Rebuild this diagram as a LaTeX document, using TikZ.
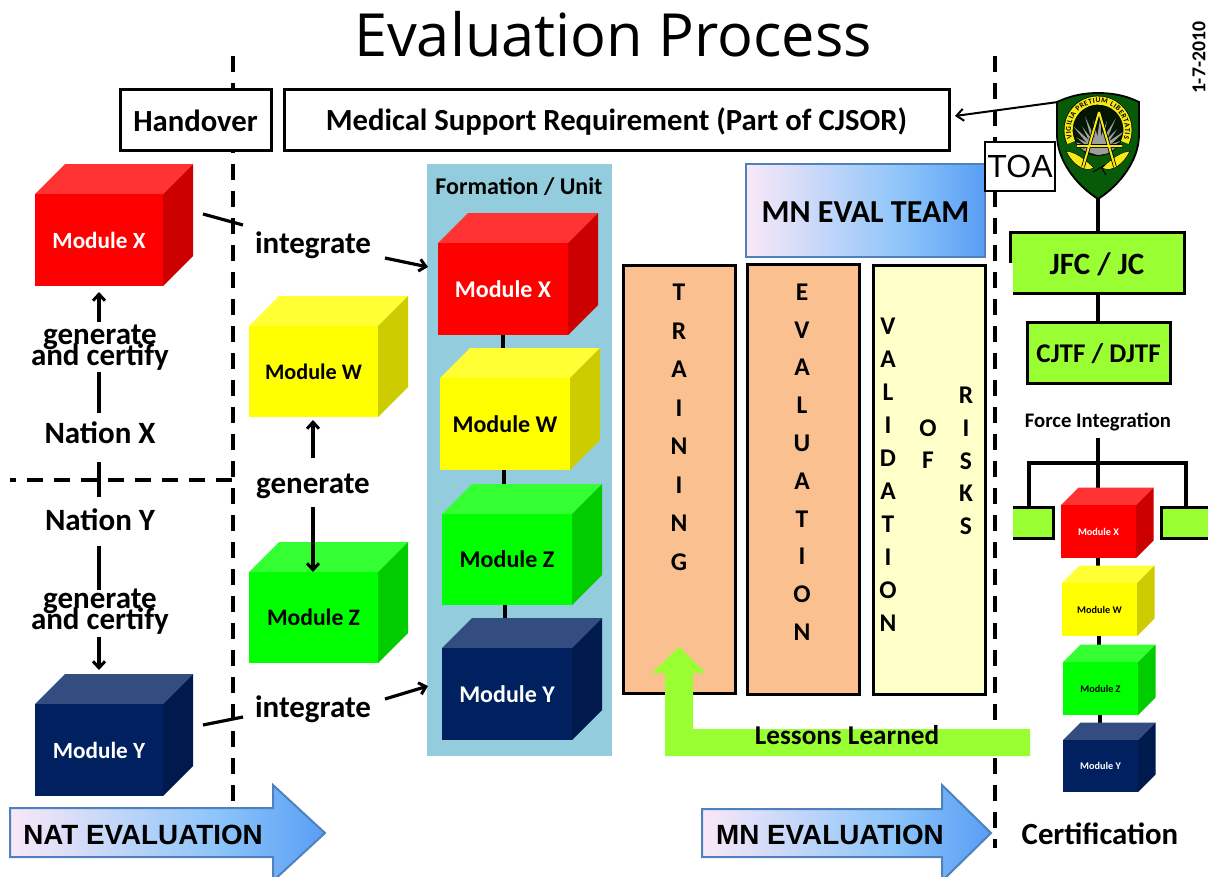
\documentclass[tikz,border=0pt]{standalone}
\usepackage{fontspec}
\setmainfont{Carlito}
\newfontfamily\titlefont{Open Sans}
\newfontfamily\arialfont{Liberation Sans}
\usetikzlibrary{arrows.meta,decorations.text}
\pgfdeclarehorizontalshading{evalgrad}{100bp}{rgb(0bp)=(.98,.91,.97);rgb(25bp)=(.98,.91,.97);rgb(58bp)=(.55,.77,.98);rgb(75bp)=(.35,.62,.96);rgb(100bp)=(.35,.62,.96)}
\definecolor{limeg}{HTML}{99FF33}
\definecolor{peach}{HTML}{FAC090}
\definecolor{paleY}{HTML}{FFFFC9}
\definecolor{formblue}{HTML}{93CDDD}
\definecolor{shieldg}{HTML}{075A07}
\definecolor{gborder}{HTML}{4F81BD}
\definecolor{cubeRf}{HTML}{FF0000}\definecolor{cubeRt}{HTML}{FF3333}\definecolor{cubeRs}{HTML}{CC0000}
\definecolor{cubeYf}{HTML}{FFFF00}\definecolor{cubeYt}{HTML}{FFFF33}\definecolor{cubeYs}{HTML}{CCCC00}
\definecolor{cubeGf}{HTML}{00FF00}\definecolor{cubeGt}{HTML}{33FF33}\definecolor{cubeGs}{HTML}{00CC00}
\definecolor{navy}{HTML}{002060}\definecolor{navytop}{HTML}{334D80}\definecolor{navyside}{HTML}{001A4D}
\definecolor{crestY}{HTML}{F5EA14}
\newcommand{\lowertxt}[2]{\raisebox{-#1}[\height][\depth]{#2}}
\tikzset{
  blackbox/.style={draw=black,line width=3pt,outer sep=0pt},
  link/.style={draw=black,line width=3.2pt},
  flowarrow/.style={draw=black,line width=3.2pt,-{Straight Barb[length=6.5pt,width=12pt,line width=3pt]}},
  gradarrow/.style={shading=evalgrad,draw=gborder,line width=2pt},
  dashline/.style={draw=black,line width=4pt,dash pattern=on 16pt off 11pt},
  lbl/.style={font=\fontsize{31}{32}\selectfont\bfseries,text=black,inner sep=0pt},
  col/.style={inner sep=0pt,align=center,anchor=north},
}
% name, front x0, y0, w, h, depth, front, top, side, text colour, font size, label
\newcommand{\modcube}[9]{%
  \def\cname{#1}\def\cx{#2}\def\cy{#3}\def\cw{#4}\def\ch{#5}\def\cd{#6}%
  \modcubeb{#7}{#8}{#9}}
\newcommand{\modcubeb}[6]{%
  \fill[#2] (\cx,\cy) -- ++(\cd,-\cd) -- ++(\cw,0) -- ++(-\cd,\cd) -- cycle;
  \fill[#3] (\cx+\cw,\cy) -- ++(\cd,-\cd) -- ++(0,\ch) -- ++(-\cd,\cd) -- cycle;
  \node[fill=#1,draw=none,inner sep=0pt,outer sep=0pt,minimum width=\cw pt,minimum height=\ch pt,anchor=north west,
        text=#4,font=\fontsize{#5}{#5}\selectfont\bfseries] (\cname) at (\cx,\cy) {#6};}
\newcommand{\redcube}[6]{\modcube{#1}{#2}{#3}{#4}{#5}{#6}{cubeRf}{cubeRt}{cubeRs}{white}}
\newcommand{\yelcube}[6]{\modcube{#1}{#2}{#3}{#4}{#5}{#6}{cubeYf}{cubeYt}{cubeYs}{black}}
\newcommand{\grncube}[6]{\modcube{#1}{#2}{#3}{#4}{#5}{#6}{cubeGf}{cubeGt}{cubeGs}{black}}
\newcommand{\navcube}[6]{\modcube{#1}{#2}{#3}{#4}{#5}{#6}{navy}{navytop}{navyside}{white}}
\begin{document}
\begin{tikzpicture}[x=1pt,y=-1pt]
\useasboundingbox (0,0) rectangle (1208,876);
\clip (0,0) rectangle (1208,876);
\fill[white] (0,0) rectangle (1208,876);

% dashed boundaries
\coordinate (dl1) at (233,56); \coordinate (dl2) at (233,808);
\coordinate (dr1) at (995,56); \coordinate (dr2) at (995,848);
\coordinate (dh1) at (10,480); \coordinate (dh2) at (232,480);
\draw[dashline] (dl1) -- (dl2);
\draw[dashline] (dr1) -- (dr2);
\draw[dashline,line width=3.6pt] (dh2) -- (dh1);

% title and date
\node[font=\titlefont\fontsize{59.5}{60}\selectfont,inner sep=0pt] (title) at (613,34) {Evaluation Process};
\node[rotate=90,font=\fontsize{19.7}{20}\selectfont\bfseries,inner sep=0pt] (date) at (1199,58) {1-7-2010};

% top boxes
\node[blackbox,fill=white,minimum width=151pt,minimum height=61pt,inner sep=0pt,anchor=north west,font=\fontsize{30.7}{31}\selectfont\bfseries] (hand) at (120,89) {\lowertxt{1pt}{Handover}};
\node[blackbox,fill=white,minimum width=665pt,minimum height=61pt,inner sep=0pt,anchor=north west,font=\fontsize{30.7}{31}\selectfont\bfseries] (msr) at (284,89) {\lowertxt{2pt}{Medical Support Requirement (Part of CJSOR)}};

% formation
\node[fill=formblue,minimum width=185pt,minimum height=592pt,inner sep=0pt,outer sep=0pt,anchor=north west] (form) at (427,164) {};
\node[font=\fontsize{24}{25}\selectfont\bfseries,inner sep=0pt] (formlbl) at (519,187) {Formation / Unit};

% formation links
\coordinate (f1a) at (503,330); \coordinate (f1b) at (503,350);
\coordinate (f2a) at (504,465); \coordinate (f2b) at (504,486);
\coordinate (f3a) at (505,600); \coordinate (f3b) at (505,620);
\draw[link] (f1a) -- (f1b); \draw[link] (f2a) -- (f2b); \draw[link] (f3a) -- (f3b);

\redcube{fX}{438}{243}{130}{92}{30}{24}{Module X}
\yelcube{fW}{440}{378}{130}{92}{30}{24}{Module W}
\grncube{fZ}{442}{514}{130}{91}{30}{24}{Module Z}
\navcube{fY}{442}{648}{130}{92}{30}{24}{Module Y}

% left cubes
\redcube{lX}{35}{194}{128}{92}{30}{23.2}{Module X}
\navcube{lY}{35}{704}{128}{92}{30}{23.2}{Module Y}
\yelcube{mW}{249}{326}{129}{91}{30}{22.2}{Module W}
\grncube{mZ}{249}{572}{129}{91}{30}{23.6}{Module Z}

% left labels
\node[lbl] (g1) at (100,337.5) {generate};
\node[lbl] (c1) at (100,357) {and certify};
\node[lbl] (nx) at (100,433) {Nation X};
\node[lbl] (ny) at (100,520) {Nation Y};
\node[lbl] (g2) at (100,601.5) {generate};
\node[lbl] (c2) at (100,621) {and certify};
\node[lbl] (i1) at (313,245.5) {integrate};
\node[lbl] (i2) at (313,709) {integrate};
\node[lbl] (gm) at (313,486.5) {generate};

% left connectors
\coordinate (a1a) at (99,322); \coordinate (a1b) at (99,292);
\draw[flowarrow] (a1a) -- (a1b);
\coordinate (a2a) at (99,372); \coordinate (a2b) at (99,413);
\draw[link] (a2a) -- (a2b);
\coordinate (a3a) at (99,462); \coordinate (a3b) at (99,497);
\draw[link] (a3a) -- (a3b);
\coordinate (a4a) at (99,546); \coordinate (a4b) at (99,590);
\draw[link] (a4a) -- (a4b);
\coordinate (a5a) at (99,637); \coordinate (a5b) at (99,670);
\draw[flowarrow] (a5a) -- (a5b);
\coordinate (b1a) at (203,214); \coordinate (b1b) at (243,225);
\draw[link] (b1a) -- (b1b);
\coordinate (b2a) at (385,258); \coordinate (b2b) at (428,267);
\draw[flowarrow] (b2a) -- (b2b);
\coordinate (b3a) at (203,725); \coordinate (b3b) at (243,717);
\draw[link] (b3a) -- (b3b);
\coordinate (b4a) at (385,699); \coordinate (b4b) at (428,686);
\draw[flowarrow] (b4a) -- (b4b);
\coordinate (b5a) at (313,458); \coordinate (b5b) at (313,420);
\draw[flowarrow] (b5a) -- (b5b);
\coordinate (b6a) at (313,507); \coordinate (b6b) at (313,572);
\draw[flowarrow] (b6a) -- (b6b);

% columns
\node[blackbox,fill=peach,minimum width=112pt,minimum height=428pt,inner sep=0pt,anchor=north west] (train) at (623,265) {};
\node[blackbox,fill=peach,minimum width=112pt,minimum height=430pt,inner sep=0pt,anchor=north west] (evalb) at (747,264) {};
\node[blackbox,fill=paleY,minimum width=112pt,minimum height=429pt,inner sep=0pt,anchor=north west] (valb) at (873,265) {};
\node[col,font=\fontsize{25.5}{38.5}\selectfont\bfseries] (ttxt) at (679,284) {T\\R\\A\\I\\N\\I\\N\\G};
\node[col,font=\fontsize{25.5}{37.8}\selectfont\bfseries] (etxt) at (802,283.5) {E\\V\\A\\L\\U\\A\\T\\I\\O\\N};
\node[col,font=\fontsize{25.5}{33}\selectfont\bfseries] (vtxt) at (888,318) {V\\A\\L\\I\\D\\A\\T\\I\\O\\N};
\node[col,font=\fontsize{25.5}{32}\selectfont\bfseries] (otxt) at (928,420) {O\\F};
\node[col,font=\fontsize{25.5}{32.7}\selectfont\bfseries] (rtxt) at (966,387) {R\\I\\S\\K\\S};

% MN eval team
\node[shading=evalgrad,draw=gborder,line width=2pt,outer sep=0pt,minimum width=239pt,minimum height=93pt,inner sep=0pt,anchor=north west,font=\fontsize{32}{33}\selectfont\bfseries] (team) at (746,164) {\lowertxt{2pt}{MN EVAL TEAM}};

% lessons learned
\fill[limeg] (679,647) -- (706,673) -- (693,673) -- (693,729) -- (1030,729) -- (1030,756) -- (665,756) -- (665,673) -- (652,673) -- cycle;
\node[font=\fontsize{27.2}{28}\selectfont\bfseries,inner sep=0pt] (ll) at (847,735) {Lessons Learned};

% eval arrows
\path[gradarrow] (10,808) -- (273,808) -- (273,785) -- (325,833) -- (273,881) -- (273,857) -- (10,857) -- cycle;
\node[font=\arialfont\bfseries\fontsize{27.8}{30}\selectfont,inner sep=0pt] (nat) at (143,835) {NAT EVALUATION};
\path[gradarrow] (702,809) -- (942,809) -- (942,785) -- (991,833) -- (942,881) -- (942,857) -- (702,857) -- cycle;
\node[font=\arialfont\bfseries\fontsize{27.8}{30}\selectfont,inner sep=0pt] (mn) at (830,835) {MN EVALUATION};
\node[font=\fontsize{30.8}{31}\selectfont\bfseries,inner sep=0pt] (cert) at (1100,834) {Certification};

% right column
\coordinate (s1) at (1098,199);
\node[blackbox,fill=limeg,minimum width=174pt,minimum height=61pt,inner sep=0pt,anchor=north west,font=\fontsize{31}{32}\selectfont\bfseries] (jfc) at (1010,232) {\lowertxt{2pt}{JFC / JC}};
\fill[white] (1007,263) rectangle (1013,296);
\node[blackbox,fill=limeg,minimum width=143pt,minimum height=61pt,inner sep=0pt,anchor=north west,font=\fontsize{27}{28}\selectfont\bfseries] (cjtf) at (1027,322) {\lowertxt{1pt}{CJTF / DJTF}};
\draw[link] (s1) -- (jfc.north -| s1);
\draw[link] (jfc.south -| s1) -- (cjtf.north -| s1);
\node[font=\fontsize{20.7}{21}\selectfont\bfseries,inner sep=0pt] (fi) at (1098,421.5) {Force Integration};
\coordinate (t0) at (1098,438); \coordinate (t1) at (1098,463);
\coordinate (tl) at (1029,463); \coordinate (tr) at (1186,463);
\coordinate (tla) at (1029,507); \coordinate (tra) at (1186,507); \coordinate (tx) at (1098,490);
\draw[link] (t0) -- (tx);
\draw[link] (tla) -- (tl) -- (tr) -- (tra);
\fill[limeg] (1013,507) rectangle (1053,538);
\draw[blackbox] (1013,507) -- (1053,507) -- (1053,538) -- (1013,538);
\node[blackbox,fill=limeg,minimum width=60pt,minimum height=31pt,inner sep=0pt,anchor=north west] (gr) at (1161,507) {};

\coordinate (k1a) at (1098,556); \coordinate (k1b) at (1098,568);
\coordinate (k2a) at (1099,635); \coordinate (k2b) at (1099,646);
\coordinate (k3a) at (1100,713); \coordinate (k3b) at (1100,724);
\draw[link] (k1a) -- (k1b); \draw[link] (k2a) -- (k2b); \draw[link] (k3a) -- (k3b);
\redcube{rX}{1061}{505}{75}{53}{17.5}{10.2}{Module X}
\yelcube{rW}{1062}{583}{75}{53}{17.5}{10.2}{Module W}
\grncube{rZ}{1063}{662}{75}{53}{17.5}{10.2}{Module Z}
\navcube{rY}{1063}{740}{75}{52}{17.5}{10.2}{Module Y}

% shield
\coordinate (scorner) at (1058,102);
\path[fill=shieldg,draw=black,line width=1.8pt] (1057,102) .. controls (1072,95) and (1085,93) .. (1098,93) .. controls (1111,93) and (1125,95) .. (1139,102) -- (1139,135) .. controls (1139,160) and (1120,185) .. (1098,199) .. controls (1076,185) and (1057,160) .. (1057,135) -- cycle;
\fill[black!75!shieldg] (1098,130) circle[radius=26];
\begin{scope}
\clip (1098,130) circle[radius=25];
\foreach \a/\r in {190/24,202/33,214/26,226/36,238/30,250/38,262/32,274/38,286/32,298/38,310/30,322/36,334/26,346/33,358/24}{
  \fill[black!38] ({1098+3*cos(\a+90)},{152+3*sin(\a+90)}) -- ({1098+\r*cos(\a)},{152+\r*sin(\a)}) -- ({1098-3*cos(\a+90)},{152-3*sin(\a+90)}) -- cycle;
}
\end{scope}
% motto ring
\draw[black,line width=9.6pt] (1098,130) ++(155:29.5) arc[start angle=155,end angle=385,radius=29.5];
\draw[crestY,line width=8.2pt] (1098,130) ++(155:29.5) arc[start angle=155,end angle=385,radius=29.5];
\path[postaction={decorate,decoration={text along path,text align={fit to path},raise=-2.4pt,text={|\fontsize{7.4}{8}\selectfont\bfseries|VIGILIA PRETIUM LIBERTATIS}}}] (1098,130) ++(162:29.5) arc[start angle=162,end angle=378,radius=29.5];
% laurel
\path[fill=crestY,draw=black,line width=.5pt] (1066,151) .. controls (1074,152) and (1082,156) .. (1094,168) .. controls (1084,173) and (1072,164) .. (1066,151) -- cycle;
\path[fill=crestY,draw=black,line width=.5pt] (1130,151) .. controls (1122,152) and (1114,156) .. (1102,168) .. controls (1112,173) and (1124,164) .. (1130,151) -- cycle;
% A and swords
\draw[black,line width=3.6pt] (1099,112) -- (1083,167) (1099,112) -- (1115,167) (1077,146) -- (1122,146);
\draw[crestY,line width=2pt] (1099,112) -- (1083,167) (1099,112) -- (1115,167) (1077,146) -- (1122,146);
\draw[black,line width=1pt] (1093,172) -- (1105,165) (1101,167) -- (1106,175);

% TOA and arrow
\node[draw=black,line width=2.4pt,outer sep=0pt,fill=white,minimum width=70pt,minimum height=49pt,inner sep=0pt,anchor=north west,font=\arialfont\fontsize{32}{33}\selectfont] (toa) at (985,142) {TOA};
\coordinate (msrtip) at ([xshift=6pt]msr.east |- 0,116);
\draw[draw=black,line width=2pt,-{Straight Barb[length=7pt,width=12pt,line width=2pt]}] (scorner) -- (msrtip);
\end{tikzpicture}
\end{document}
